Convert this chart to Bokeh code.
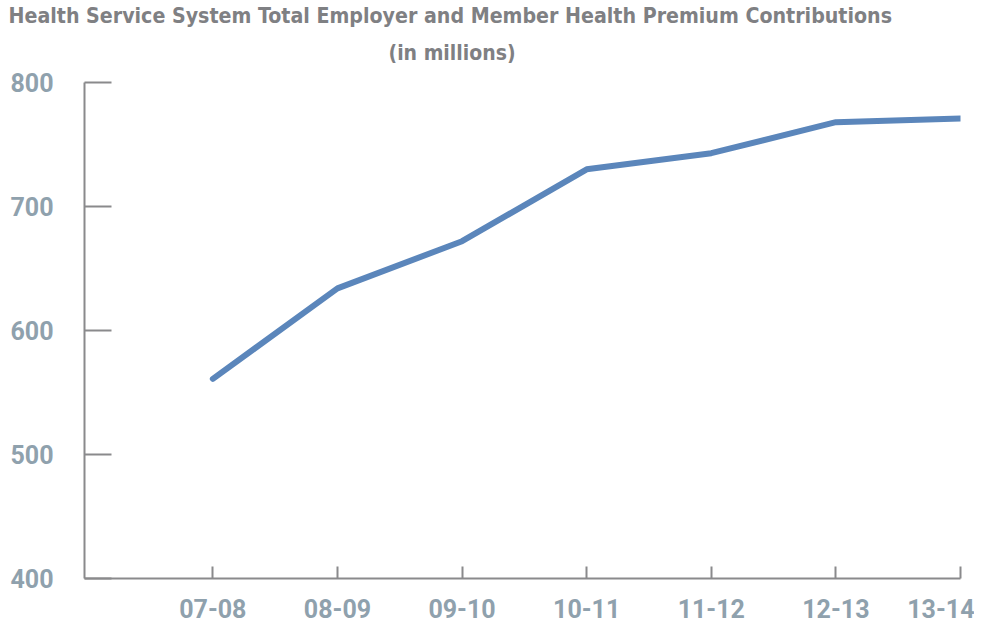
from bokeh.plotting import figure
from bokeh.models import Title, FixedTicker, Range1d
from bokeh.embed import file_html
from bokeh.resources import INLINE

# Data
years = ["07-08", "08-09", "09-10", "10-11", "11-12", "12-13", "13-14"]
contributions = [561, 634, 672, 730, 743, 768, 771]
y_ticks = [400, 500, 600, 700, 800]
title_line1 = "Health Service System Total Employer and Member Health Premium Contributions"
title_line2 = "(in millions)"

LABEL_COLOR = "#8fa1ad"
AXIS_COLOR = "#8a8a8c"
TITLE_COLOR = "#7f8083"
LINE_COLOR = "#5b86bb"
TITLE_FONT = "DejaVu Sans Condensed"

xs = list(range(len(years)))

p = figure(width=974, height=622, output_backend="svg", toolbar_location=None,
           x_range=Range1d(-1.03, len(years) - 1), y_range=Range1d(400, 800),
           min_border_left=84, min_border_right=14, min_border_top=82,
           min_border_bottom=44, title=None)
p.outline_line_color = None
p.grid.grid_line_color = None
p.background_fill_color = "white"
p.border_fill_color = "white"

p.line(xs, contributions, line_color=LINE_COLOR, line_width=6, line_cap="round",
       line_join="round")

# x axis
p.xaxis.ticker = FixedTicker(ticks=xs)
p.xaxis.major_label_overrides = {i: lab for i, lab in enumerate(years)}
p.xaxis.axis_line_color = AXIS_COLOR
p.xaxis.axis_line_width = 2
p.xaxis.major_tick_line_color = AXIS_COLOR
p.xaxis.major_tick_line_width = 2
p.xaxis.major_tick_in = 12
p.xaxis.major_tick_out = 0
p.xaxis.minor_tick_line_color = None
p.xaxis.major_label_text_font = "Roboto"
p.xaxis.major_label_text_font_style = "bold"
p.xaxis.major_label_text_font_size = "25px"
p.xaxis.major_label_text_color = LABEL_COLOR
p.xaxis.major_label_standoff = 20

# y axis
p.yaxis.ticker = FixedTicker(ticks=y_ticks)
p.yaxis.axis_line_color = AXIS_COLOR
p.yaxis.axis_line_width = 2
p.yaxis.major_tick_line_color = AXIS_COLOR
p.yaxis.major_tick_line_width = 2
p.yaxis.major_tick_in = 27
p.yaxis.major_tick_out = 0
p.yaxis.minor_tick_line_color = None
p.yaxis.major_label_text_font = "Roboto"
p.yaxis.major_label_text_font_style = "bold"
p.yaxis.major_label_text_font_size = "25px"
p.yaxis.major_label_text_color = LABEL_COLOR
p.yaxis.major_label_standoff = 31

# Title (two lines; second added first so it sits nearer the plot)
p.add_layout(Title(text=title_line2, align="left", offset=304, standoff=35,
                   text_font=TITLE_FONT, text_font_style="bold",
                   text_font_size="21px", text_color=TITLE_COLOR), "above")
p.add_layout(Title(text=title_line1, align="left", offset=-76, standoff=-12,
                   text_font=TITLE_FONT, text_font_style="bold",
                   text_font_size="21.2px", text_color=TITLE_COLOR), "above")

open("out.html", "w").write(file_html(p, INLINE))
